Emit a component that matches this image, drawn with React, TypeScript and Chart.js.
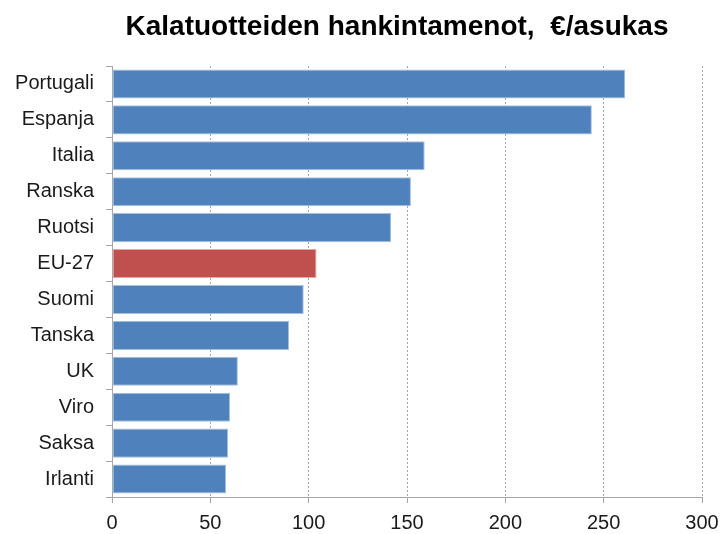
import React, { useEffect, useRef } from "react";
import { Chart, registerables } from "chart.js";

Chart.register(...registerables);

const TITLE = "Kalatuotteiden hankintamenot,  €/asukas";
const categories = ["Portugali", "Espanja", "Italia", "Ranska", "Ruotsi", "EU-27", "Suomi", "Tanska", "UK", "Viro", "Saksa", "Irlanti"];
const values = [261, 244, 159, 152, 142, 104, 97.5, 90, 64, 60, 59, 58];
const highlight = "EU-27";
const xTicks = [0, 50, 100, 150, 200, 250, 300];

const BLUE = "#4F81BD";
const RED = "#C0504D";

const titlePlugin = {
  id: "customTitle",
  afterDraw(chart: any) {
    const ctx = chart.ctx;
    ctx.save();
    ctx.font = "bold 28px 'Liberation Sans', Arial, sans-serif";
    ctx.fillStyle = "#000";
    ctx.textAlign = "center";
    ctx.textBaseline = "middle";
    ctx.fillText(TITLE, 397, 27);
    ctx.restore();
  },
};

export default function App() {
  const ref = useRef<HTMLCanvasElement>(null);
  useEffect(() => {
    if (!ref.current) return;
    const chart = new Chart(ref.current, {
      type: "bar",
      data: {
        labels: categories,
        datasets: [
          {
            data: values,
            backgroundColor: categories.map((c) => (c === highlight ? RED : BLUE)),
            borderColor: categories.map((c) => (c === highlight ? "#E3A9A7" : "#A7C0DE")),
            borderWidth: 1,
            borderSkipped: false,
            barPercentage: 0.81,
            categoryPercentage: 1,
          },
        ],
      },
      options: {
        indexAxis: "y",
        animation: false,
        responsive: false,
        maintainAspectRatio: false,
        layout: { padding: { top: 66, right: 21, left: 0, bottom: 0 } },
        plugins: { legend: { display: false }, title: { display: false }, tooltip: { enabled: false } },
        scales: {
          x: {
            min: 0,
            max: 300,
            afterBuildTicks: (scale: any) => {
              scale.ticks = xTicks.map((v) => ({ value: v }));
            },
            afterFit: (scale: any) => {
              scale.height = 37;
              scale.paddingRight = 0;
              scale.paddingLeft = 0;
            },
            grid: {
              color: "#A6A6A6",
              lineWidth: 1,
              drawTicks: true,
              tickLength: 6,
              tickColor: "#A6A6A6",
            },
            border: { display: true, color: "#A6A6A6", width: 1, dash: [2, 2] },
            ticks: {
              color: "#1a1a1a",
              font: { family: "'Liberation Sans', Arial, sans-serif", size: 20 },
              padding: 8,
            },
          },
          y: {
            afterFit: (scale: any) => {
              scale.width = 112;
            },
            grid: {
              drawOnChartArea: false,
              drawTicks: true,
              tickLength: 6,
              tickColor: "#A6A6A6",
            },
            border: { display: true, color: "#A6A6A6", width: 1 },
            ticks: {
              color: "#1a1a1a",
              font: { family: "'Liberation Sans', Arial, sans-serif", size: 20 },
              padding: 12,
            },
          },
        },
      },
      plugins: [titlePlugin],
    });
    return () => chart.destroy();
  }, []);
  return (
    <div style={{ position: "fixed", left: 0, top: 0, width: 723, height: 534, background: "#fff" }}>
      <canvas ref={ref} width={723} height={534} style={{ width: 723, height: 534 }} />
    </div>
  );
}
